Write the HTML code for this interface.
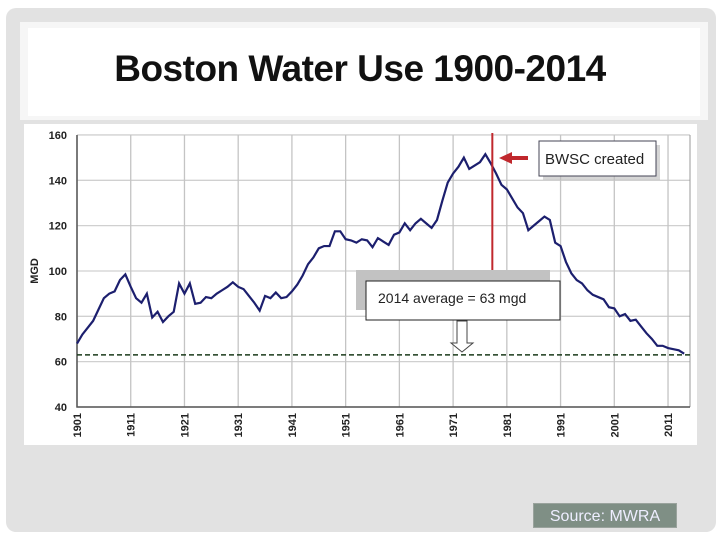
<!DOCTYPE html>
<html><head><meta charset="utf-8"><style>
body{margin:0;width:720px;height:540px;background:#fff;position:relative;overflow:hidden;font-family:"Liberation Sans",sans-serif}
#panel{position:absolute;left:6px;top:8px;width:710px;height:524px;background:#e2e2e2;border-radius:10px}
#titlebox{position:absolute;left:20px;top:22px;width:688px;height:98px;background:#f6f6f6}
#titlein{position:absolute;left:28px;top:28px;width:672px;height:88px;background:#fff}
#title{position:absolute;left:0;top:48px;width:720px;text-align:center;font-size:37px;font-weight:bold;letter-spacing:-0.5px;color:#111}
#source{position:absolute;left:533px;top:503px;width:144px;height:25px;background:#7f8f85;border:1px solid #9aa39d;color:#eef;font-size:16px;line-height:25px;text-align:center;box-sizing:border-box}
svg{position:absolute;left:0;top:0}
</style></head><body>
<div id="panel"></div>
<div id="titlebox"></div>
<div id="titlein"></div>
<div id="title">Boston Water Use 1900-2014</div>
<svg id="chart" width="720" height="540"></svg>
<div id="source">Source: MWRA</div>
<script>
const years=[];for(let y=1901;y<=2014;y++)years.push(y);
const values=[68,72,75,78,83,88,90,91,96,98.5,93,88,86,90,79.5,82,77.5,80,82,94.5,90,94.5,85.5,86,88.5,88,90,91.5,93,95,93,92,89,86,82.5,89,88,90.5,88,88.5,91,94,98,103,106,110,111,111,117.5,117.5,114,113.5,112.5,114,113.5,110.5,114.5,113,111.5,116,117,121,118,121,123,121,119,122.5,131,139,143,146,150,145,146.5,148,151.5,147.5,143,138,136,132,128,125.5,118,120,122,124,122.5,112.5,111,104,99,96,94.5,91.5,89.5,88.5,87.5,84,83.5,80,81,78,78.5,75.5,72.5,70,67,67,66,65.5,65,63.5];
const yTicks=[40,60,80,100,120,140,160];
const xTicks=[1901,1911,1921,1931,1941,1951,1961,1971,1981,1991,2001,2011];
const avg=63;const bwscYear=1978.3;
const NS="http://www.w3.org/2000/svg";const svg=document.getElementById('chart');
const X=y=>77+(y-1901)*5.373, Y=v=>407-(v-40)*2.267;
function mk(t,a){const e=document.createElementNS(NS,t);for(const k in a)e.setAttribute(k,a[k]);svg.appendChild(e);return e;}
let e=mk('rect',{x:24,y:124,width:673,height:321,fill:'#fff'});


for(const t of yTicks){
 e=mk('line',{x1:77,x2:690,y1:Y(t),y2:Y(t),stroke:'#d0d0d0','stroke-width':1.3});
 
 
 e=mk('text',{x:67,y:Y(t)+4,'text-anchor':'end','font-size':11,'font-weight':'bold',fill:'#222'});e.textContent=t;
 
 
}
for(const t of xTicks){
 e=mk('line',{x1:X(t),x2:X(t),y1:Y(160),y2:Y(40),stroke:'#c4c4c4','stroke-width':1.3});
 
 
 e=mk('text',{x:0,y:0,'text-anchor':'end','font-size':11,'font-weight':'bold',fill:'#222',transform:`translate(${X(t)+4},${Y(40)+6}) rotate(-90)`});e.textContent=t;
 
 
}
e=mk('line',{x1:690,x2:690,y1:Y(160),y2:Y(40),stroke:'#999'});
e=mk('path',{d:`M77 ${Y(160)}V${Y(40)}H690`,stroke:'#555','stroke-width':1.5,fill:'none'});


e=mk('text',{x:0,y:0,'font-size':11,'font-weight':'bold',fill:'#222','text-anchor':'middle',transform:`translate(38,${Y(100)}) rotate(-90)`});e.textContent='MGD';


e=mk('line',{x1:77,x2:690,y1:Y(avg),y2:Y(avg),stroke:'#1a3a1a','stroke-width':1.5,'stroke-dasharray':'5,3'});


e=mk('polyline',{points:years.map((y,i)=>X(y)+','+Y(values[i])).join(' '),fill:'none',stroke:'#1c1f6e','stroke-width':2.2});


e=mk('line',{x1:X(bwscYear),x2:X(bwscYear),y1:133,y2:275,stroke:'#c0282d','stroke-width':2});


e=mk('rect',{x:356,y:270,width:194,height:40,fill:'#c2c2c2'});


e=mk('rect',{x:366,y:281,width:194,height:39,fill:'#fff',stroke:'#222'});


e=mk('text',{x:378,y:303,'font-size':14,fill:'#222'});e.textContent='2014 average = 63 mgd';


e=mk('path',{d:'M457 321H467V343H473L462 352L451 343H457Z',fill:'#fff',stroke:'#444'});


e=mk('rect',{x:543,y:145,width:117,height:35,fill:'#bbb',opacity:0.6});
e=mk('rect',{x:539,y:141,width:117,height:35,fill:'#fff',stroke:'#445'});


e=mk('text',{x:545,y:164,'font-size':15,fill:'#222'});e.textContent='BWSC created';


e=mk('path',{d:'M528 156H512V152L499 158L512 164V160H528Z',fill:'#c0282d'});


</script>
</body></html>
